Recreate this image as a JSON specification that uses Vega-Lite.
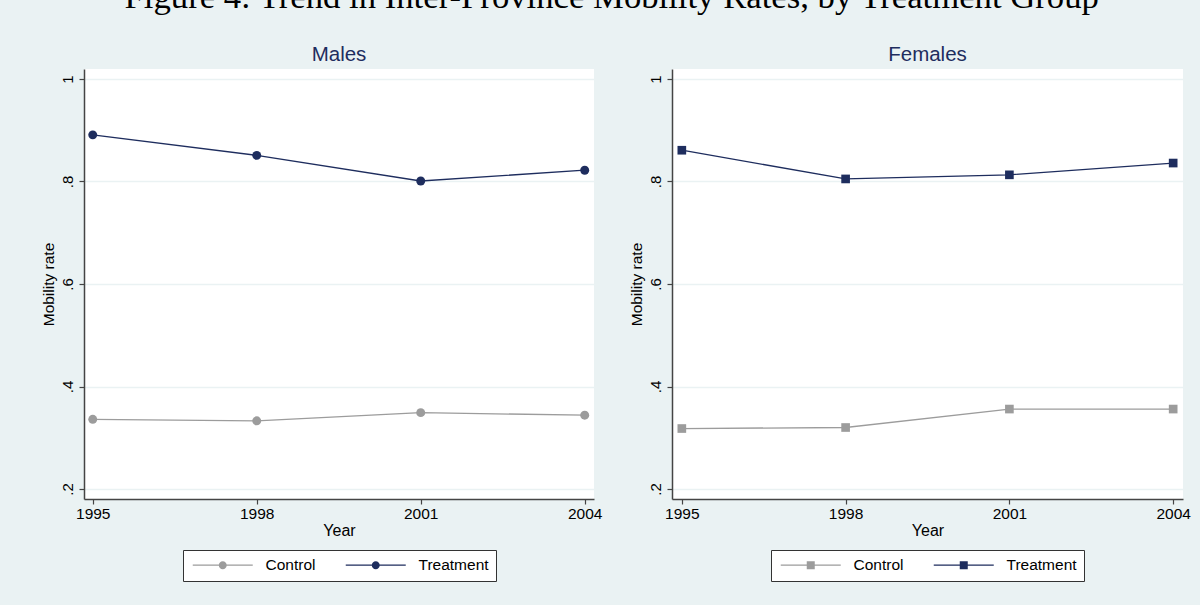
{
  "$schema": "https://vega.github.io/schema/vega-lite/v6.json",
  "background": "#eaf2f3",
  "padding": {"left": 41, "right": 16, "top": -21, "bottom": 29},
  "title": {
    "text": "Figure 4: Trend in Inter-Province Mobility Rates, by Treatment Group",
    "font": "Liberation Serif",
    "fontSize": 34.7,
    "fontWeight": "normal",
    "color": "#000000",
    "anchor": "middle",
    "offset": 29,
    "dx": -4
  },
  "datasets": {
    "mob": [
      {"sex": "Males", "group": "Treatment", "year": 1995, "rate": 0.891},
      {"sex": "Males", "group": "Treatment", "year": 1998, "rate": 0.851},
      {"sex": "Males", "group": "Treatment", "year": 2001, "rate": 0.801},
      {"sex": "Males", "group": "Treatment", "year": 2004, "rate": 0.822},
      {"sex": "Males", "group": "Control", "year": 1995, "rate": 0.336},
      {"sex": "Males", "group": "Control", "year": 1998, "rate": 0.333},
      {"sex": "Males", "group": "Control", "year": 2001, "rate": 0.349},
      {"sex": "Males", "group": "Control", "year": 2004, "rate": 0.344},
      {"sex": "Females", "group": "Treatment", "year": 1995, "rate": 0.861},
      {"sex": "Females", "group": "Treatment", "year": 1998, "rate": 0.805},
      {"sex": "Females", "group": "Treatment", "year": 2001, "rate": 0.813},
      {"sex": "Females", "group": "Treatment", "year": 2004, "rate": 0.836},
      {"sex": "Females", "group": "Control", "year": 1995, "rate": 0.318},
      {"sex": "Females", "group": "Control", "year": 1998, "rate": 0.320},
      {"sex": "Females", "group": "Control", "year": 2001, "rate": 0.356},
      {"sex": "Females", "group": "Control", "year": 2004, "rate": 0.356}
    ]
  },
  "hconcat": [
    {
      "width": 510,
      "height": 430,
      "data": {"name": "mob"},
      "title": {"text": "Males"},
      "transform": [{"filter": "datum.sex == 'Males'"}],
      "encoding": {
        "x": {"field": "year", "type": "quantitative", "scale": {"domain": [1994.84, 2004.17], "nice": false, "zero": false}, "axis": {"values": [1995, 1998, 2001, 2004], "format": "d", "title": "Year"}},
        "y": {"field": "rate", "type": "quantitative", "scale": {"domain": [0.1805, 1.0195], "nice": false, "zero": false}, "axis": {"values": [0.2, 0.4, 0.6, 0.8, 1], "labelExpr": "datum.value >= 1 ? '1' : substring(format(datum.value, '.1f'), 1)", "title": "Mobility rate"}},
        "color": {"field": "group", "type": "nominal", "scale": {"domain": ["Control", "Treatment"], "range": ["#9c9c9c", "#1e2d5e"]},
          "legend": {"title": null, "orient": "bottom", "direction": "horizontal", "symbolType": "M-1,-0.12H11V0.12H-1Z M4.2,0A0.8,0.8 0 0 1 5.8,0A0.8,0.8 0 0 1 4.2,0Z", "symbolSize": 100, "symbolStrokeWidth": 0, "symbolOpacity": 1, "labelFont": "Liberation Sans", "labelFontSize": 15.5, "labelColor": "#000000", "strokeColor": "#333333", "fillColor": "#ffffff", "padding": 7, "labelOffset": 60, "columnPadding": 27, "offset": 11}}
      },
      "layer": [
        {"mark": {"type": "line", "strokeWidth": 1.3}},
        {"mark": {"type": "point", "shape": "circle", "filled": true, "size": 80, "opacity": 1}}
      ]
    },
    {
      "width": 511,
      "height": 430,
      "data": {"name": "mob"},
      "title": {"text": "Females"},
      "transform": [{"filter": "datum.sex == 'Females'"}],
      "encoding": {
        "x": {"field": "year", "type": "quantitative", "scale": {"domain": [1994.82, 2004.18], "nice": false, "zero": false}, "axis": {"values": [1995, 1998, 2001, 2004], "format": "d", "title": "Year"}},
        "y": {"field": "rate", "type": "quantitative", "scale": {"domain": [0.1805, 1.0195], "nice": false, "zero": false}, "axis": {"values": [0.2, 0.4, 0.6, 0.8, 1], "labelExpr": "datum.value >= 1 ? '1' : substring(format(datum.value, '.1f'), 1)", "title": "Mobility rate"}},
        "color": {"field": "group", "type": "nominal", "scale": {"domain": ["Control", "Treatment"], "range": ["#9c9c9c", "#1e2d5e"]},
          "legend": {"title": null, "orient": "bottom", "direction": "horizontal", "symbolType": "M-1,-0.12H11V0.12H-1Z M4.2,-0.8H5.8V0.8H4.2Z", "symbolSize": 100, "symbolStrokeWidth": 0, "symbolOpacity": 1, "labelFont": "Liberation Sans", "labelFontSize": 15.5, "labelColor": "#000000", "strokeColor": "#333333", "fillColor": "#ffffff", "padding": 7, "labelOffset": 60, "columnPadding": 27, "offset": 11}}
      },
      "layer": [
        {"mark": {"type": "line", "strokeWidth": 1.3}},
        {"mark": {"type": "point", "shape": "square", "filled": true, "size": 75, "opacity": 1}}
      ]
    }
  ],
  "spacing": 27,
  "resolve": {"scale": {"color": "independent"}, "legend": {"color": "independent"}},
  "config": {
    "font": "Liberation Sans",
    "view": {"fill": "#ffffff", "stroke": null},
    "title": {"fontSize": 20.5, "fontWeight": "normal", "color": "#1e2d5e", "offset": 4, "anchor": "middle", "font": "Liberation Sans"},
    "legend": {"layout": {"bottom": {"anchor": "middle"}}},
    "axis": {
      "domainColor": "#444444",
      "domainWidth": 1.5,
      "tickColor": "#444444",
      "tickWidth": 1.2,
      "tickSize": 5,
      "labelColor": "#000000",
      "titleColor": "#000000",
      "titleFontWeight": "normal",
      "labelFont": "Liberation Sans",
      "titleFont": "Liberation Sans"
    },
    "axisX": {"grid": false, "labelFontSize": 15.5, "titleFontSize": 16, "labelPadding": 2, "titlePadding": 1},
    "axisY": {"grid": true, "gridColor": "#eaf2f3", "gridWidth": 1.5, "labelFontSize": 15, "titleFontSize": 15.5, "labelAngle": -90, "labelPadding": 4, "titlePadding": 4}
  }
}
